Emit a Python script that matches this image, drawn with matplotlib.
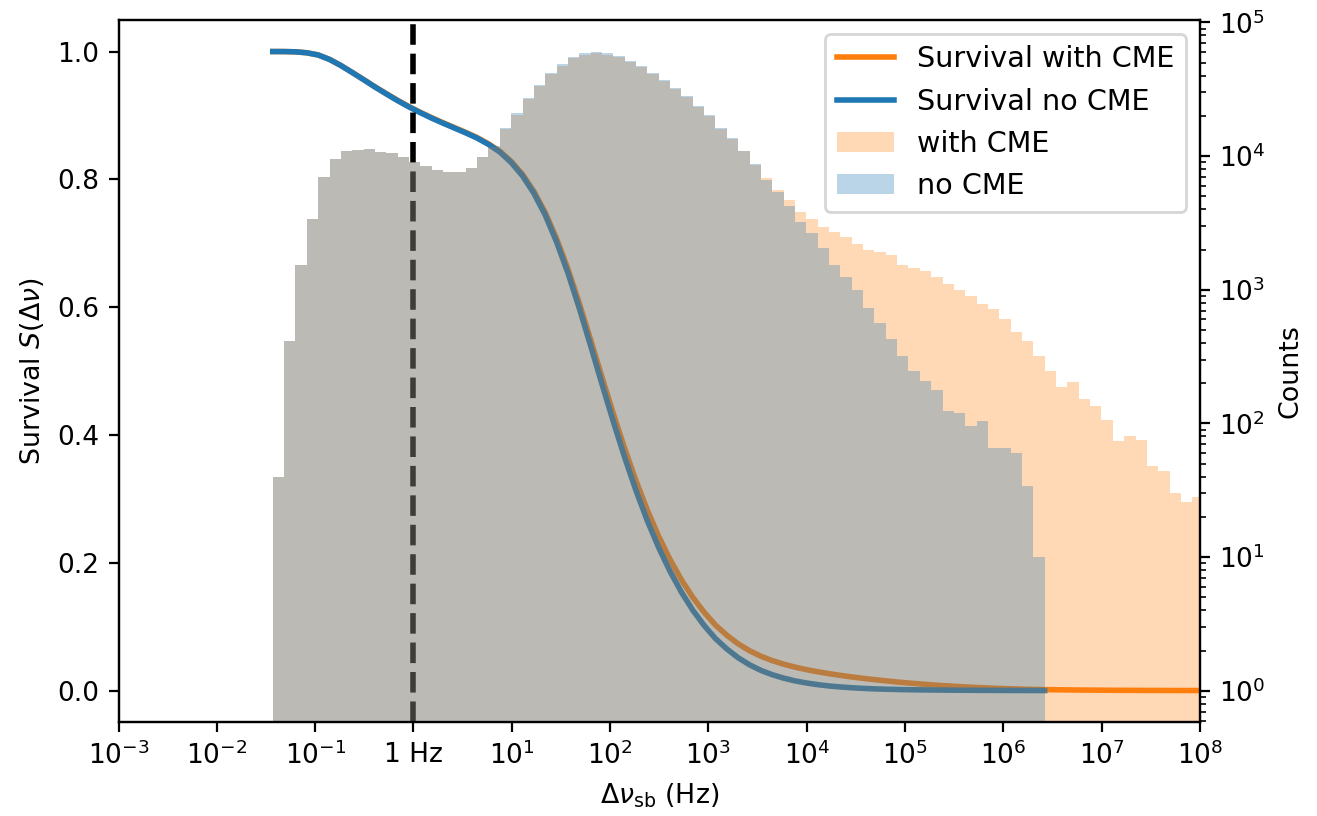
import numpy as np
import matplotlib
matplotlib.use("Agg")
import matplotlib.pyplot as plt
from matplotlib.ticker import NullLocator

# histogram binning (log-spaced)
bin_lo, bin_width, n_bins = -1.4313, 0.11546, 82
edges = 10 ** (bin_lo + bin_width * np.arange(n_bins + 1))

# counts per bin, with CME (82 bins, last one cut by the axis)
counts_cme = [
    40, 413, 1520, 3395, 6950, 9530, 10860, 11190, 11380, 10810,
    10500, 9800, 8990, 8490, 7890, 7570, 7570, 8110, 9800, 11640,
    15960, 20420, 26590, 33260, 41150, 47480, 53830, 57390, 58660, 57390,
    54750, 50840, 46100, 41150, 36230, 31780, 27500, 23440, 20080, 15960,
    13450, 10860, 8630, 6820, 5590, 4710, 3850, 3395, 2970, 2695,
    2473, 2207, 2000, 1910, 1836, 1545, 1460, 1377, 1242, 1109,
    1000, 906, 777, 713, 607, 482, 411, 317, 249, 187,
    204, 153, 135, 107, 74, 80, 75, 48, 44, 30,
    26, 28,
]

# counts per bin, no CME (68 bins)
counts_nocme = [
    40, 413, 1520, 3395, 6950, 9530, 10860, 11190, 11380, 10810,
    10500, 9800, 8990, 8490, 7890, 7570, 7570, 8110, 9800, 11900,
    16300, 20850, 27150, 33950, 42000, 48450, 54900, 58550, 59850, 58550,
    55850, 51850, 47050, 42000, 36950, 32400, 28050, 23900, 20450, 16250,
    13650, 11000, 8750, 6670, 5360, 4270, 3240, 2650, 2047, 1545,
    1242, 1000, 728, 567, 425, 319, 249, 207, 179, 125,
    120, 95, 105, 65, 65, 60.5, 34, 10,
]

xtick_pos = [1e-3, 1e-2, 1e-1, 1, 1e1, 1e2, 1e3, 1e4, 1e5, 1e6, 1e7, 1e8]
xtick_lab = [r'$10^{-3}$', r'$10^{-2}$', r'$10^{-1}$', '1 Hz', r'$10^{1}$', r'$10^{2}$',
             r'$10^{3}$', r'$10^{4}$', r'$10^{5}$', r'$10^{6}$', r'$10^{7}$', r'$10^{8}$']


def survival(counts):
    # fraction of events above each bin edge
    c = np.concatenate([[0], np.cumsum(counts)])
    return 1 - c / c[-1]


edges_nocme = edges[:len(counts_nocme) + 1]
surv_cme = survival(counts_cme)
surv_nocme = survival(counts_nocme)

fig = plt.figure(figsize=(1317 / 200, 816 / 200), dpi=200)
ax1 = fig.add_subplot(111)
fig.subplots_adjust(left=0.090, right=0.9112, top=0.976, bottom=0.1146)

# survival curves on the left axis
l1, = ax1.plot(edges, surv_cme, color='C1', lw=2, label='Survival with CME')
l2, = ax1.plot(edges_nocme, surv_nocme, color='C0', lw=2, label='Survival no CME')
ax1.axvline(1, color='k', ls='--', lw=2)

ax1.set_xscale('log')
ax1.set_xlim(1e-3, 1e8)
ax1.set_ylim(-0.05, 1.05)
ax1.set_xticks(xtick_pos)
ax1.set_xticklabels(xtick_lab)
ax1.xaxis.set_minor_locator(NullLocator())
ax1.tick_params(labelsize=9.5)
ax1.set_xlabel(r'$\Delta\nu_{\rm sb}$ (Hz)', fontsize=9.7)
ax1.set_ylabel(r'Survival $S(\Delta\nu)$', fontsize=9.7)

# histograms on the right axis, drawn on top
ax2 = ax1.twinx()
h1 = ax2.hist(edges[:-1], bins=edges, weights=counts_cme, color='C1', alpha=0.3,
              label='with CME')[2]
h2 = ax2.hist(edges_nocme[:-1], bins=edges_nocme, weights=counts_nocme,
              color='C0', alpha=0.3, label='no CME')[2]
ax2.set_yscale('log')
ax2.set_ylim(0.58, 1.05e5)
ax2.set_xlim(1e-3, 1e8)
ax2.tick_params(labelsize=9.5)
ax2.set_ylabel('Counts', fontsize=9.7)

ax2.legend([l1, l2, h1[0], h2[0]],
           ['Survival with CME', 'Survival no CME', 'with CME', 'no CME'],
           loc='upper right', fontsize=10.3)

fig.savefig('out.png', dpi=200)
